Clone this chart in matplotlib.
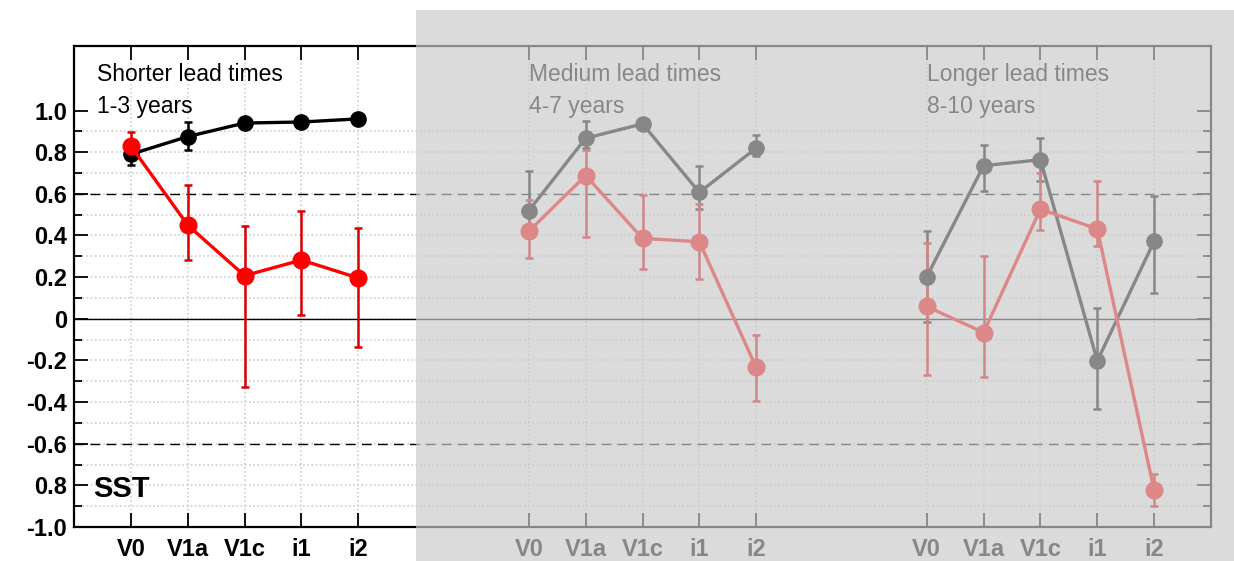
import matplotlib
matplotlib.use('Agg')
import matplotlib.pyplot as plt
from matplotlib.patches import Rectangle
from matplotlib.ticker import FixedLocator

plt.rcParams['font.family'] = ['Liberation Sans', 'DejaVu Sans']

labels = ['V0', 'V1a', 'V1c', 'i1', 'i2']
group_offsets = [0, 7, 14]
group_titles = ['Shorter lead times\n1-3 years', 'Medium lead times\n4-7 years', 'Longer lead times\n8-10 years']

# black series (value, lower, upper) per lead-time group
black_vals = [[0.79, 0.875, 0.94, 0.945, 0.96],
              [0.519, 0.867, 0.936, 0.607, 0.82],
              [0.202, 0.735, 0.764, -0.202, 0.372]]
black_lo = [[0.74, 0.81, 0.94, 0.945, 0.96],
            [0.44, 0.82, 0.936, 0.527, 0.78],
            [-0.015, 0.612, 0.66, -0.431, 0.124]]
black_hi = [[0.83, 0.945, 0.94, 0.945, 0.96],
            [0.708, 0.949, 0.936, 0.736, 0.883],
            [0.423, 0.835, 0.867, 0.051, 0.588]]

# red series
red_vals = [[0.83, 0.45, 0.207, 0.282, 0.196],
            [0.42, 0.688, 0.386, 0.37, -0.234],
            [0.059, -0.066, 0.527, 0.431, -0.824]]
red_lo = [[0.77, 0.282, -0.327, 0.019, -0.135],
          [0.292, 0.391, 0.237, 0.189, -0.397],
          [-0.271, -0.282, 0.428, 0.348, -0.899]]
red_hi = [[0.895, 0.644, 0.447, 0.516, 0.434],
          [0.572, 0.81, 0.596, 0.551, -0.078],
          [0.364, 0.303, 0.699, 0.663, -0.744]]

ytick_vals = [-1.0, -0.8, -0.6, -0.4, -0.2, 0, 0.2, 0.4, 0.6, 0.8, 1.0]
ytick_labels = ['-1.0', '0.8', '-0.6', '-0.4', '-0.2', '0', '0.2', '0.4', '0.6', '0.8', '1.0']

fig = plt.figure(figsize=(12.34, 5.61), dpi=100)
ax = fig.add_axes([74 / 1234, 1 - 527 / 561, (1211 - 74) / 1234, (527 - 46) / 561])

xticks = []
xlabels = []
for g, off in enumerate(group_offsets):
    x = [off + i for i in range(len(labels))]
    xticks += x
    xlabels += labels
    for vals, lo, hi, col, ecol, ms in [(black_vals, black_lo, black_hi, 'black', 'black', 11),
                                        (red_vals, red_lo, red_hi, '#ff0000', '#d80000', 12)]:
        v = vals[g]
        yerr = [[v[i] - lo[g][i] for i in range(5)], [hi[g][i] - v[i] for i in range(5)]]
        ax.errorbar(x, v, yerr=yerr, fmt='none', ecolor=ecol, elinewidth=1.8,
                    capsize=3, capthick=1.8, zorder=4)
        ax.plot(x, v, '-o', color=col, lw=2.4, ms=ms, zorder=5)
    tx = -0.6 if g == 0 else off
    first, second = group_titles[g].split('\n')
    ax.text(tx, 1.141, first, fontsize=16.5, ha='left', va='baseline')
    ax.text(tx, 0.986, second, fontsize=16.5, ha='left', va='baseline')

ax.text(-0.67, -0.856, 'SST', fontsize=21, fontweight='bold', ha='left', va='baseline')

ax.axhline(0, color='black', lw=1.0, zorder=2)
for yy in (0.6, -0.6):
    ax.axhline(yy, color='black', lw=1.0, ls=(0, (7, 4.5)), zorder=2)

ax.set_xlim(-1, 19)
ax.set_ylim(-1.0, 1.31)
ax.set_xticks(xticks)
ax.set_xticklabels(xlabels, fontsize=17, fontweight='bold')
ax.yaxis.set_major_locator(FixedLocator(ytick_vals))
ax.set_yticklabels(ytick_labels, fontsize=17, fontweight='bold')
ax.yaxis.set_minor_locator(FixedLocator([-0.9 + 0.2 * k for k in range(10)]))

ax.tick_params(axis='both', which='both', direction='in', width=1.3)
ax.tick_params(axis='y', which='major', length=10, left=True, right=True, pad=5)
ax.tick_params(axis='y', which='minor', length=6, left=True, right=True)
ax.tick_params(axis='x', which='major', length=10, top=True, bottom=True, pad=8)

# dotted grid only between -1 and 1
for yy in [-0.9 + 0.1 * k for k in range(19)]:
    ax.axhline(yy, color='#cfcfcf', lw=1.2, ls=(0, (1, 1.5)), zorder=1)
for xx in xticks:
    ax.axvline(xx, color='#cfcfcf', lw=1.2, ls=(0, (1, 1.5)), zorder=1)

for s in ax.spines.values():
    s.set_linewidth(1.6)

# grey veil over the medium and longer lead-time panels
veil = Rectangle((416 / 1234, 0), 1 - 416 / 1234, 1 - 10 / 561, transform=fig.transFigure,
                 facecolor='#cbcacc', alpha=0.67, edgecolor='none', zorder=10)
fig.add_artist(veil)

fig.savefig('out.png', dpi=100)
